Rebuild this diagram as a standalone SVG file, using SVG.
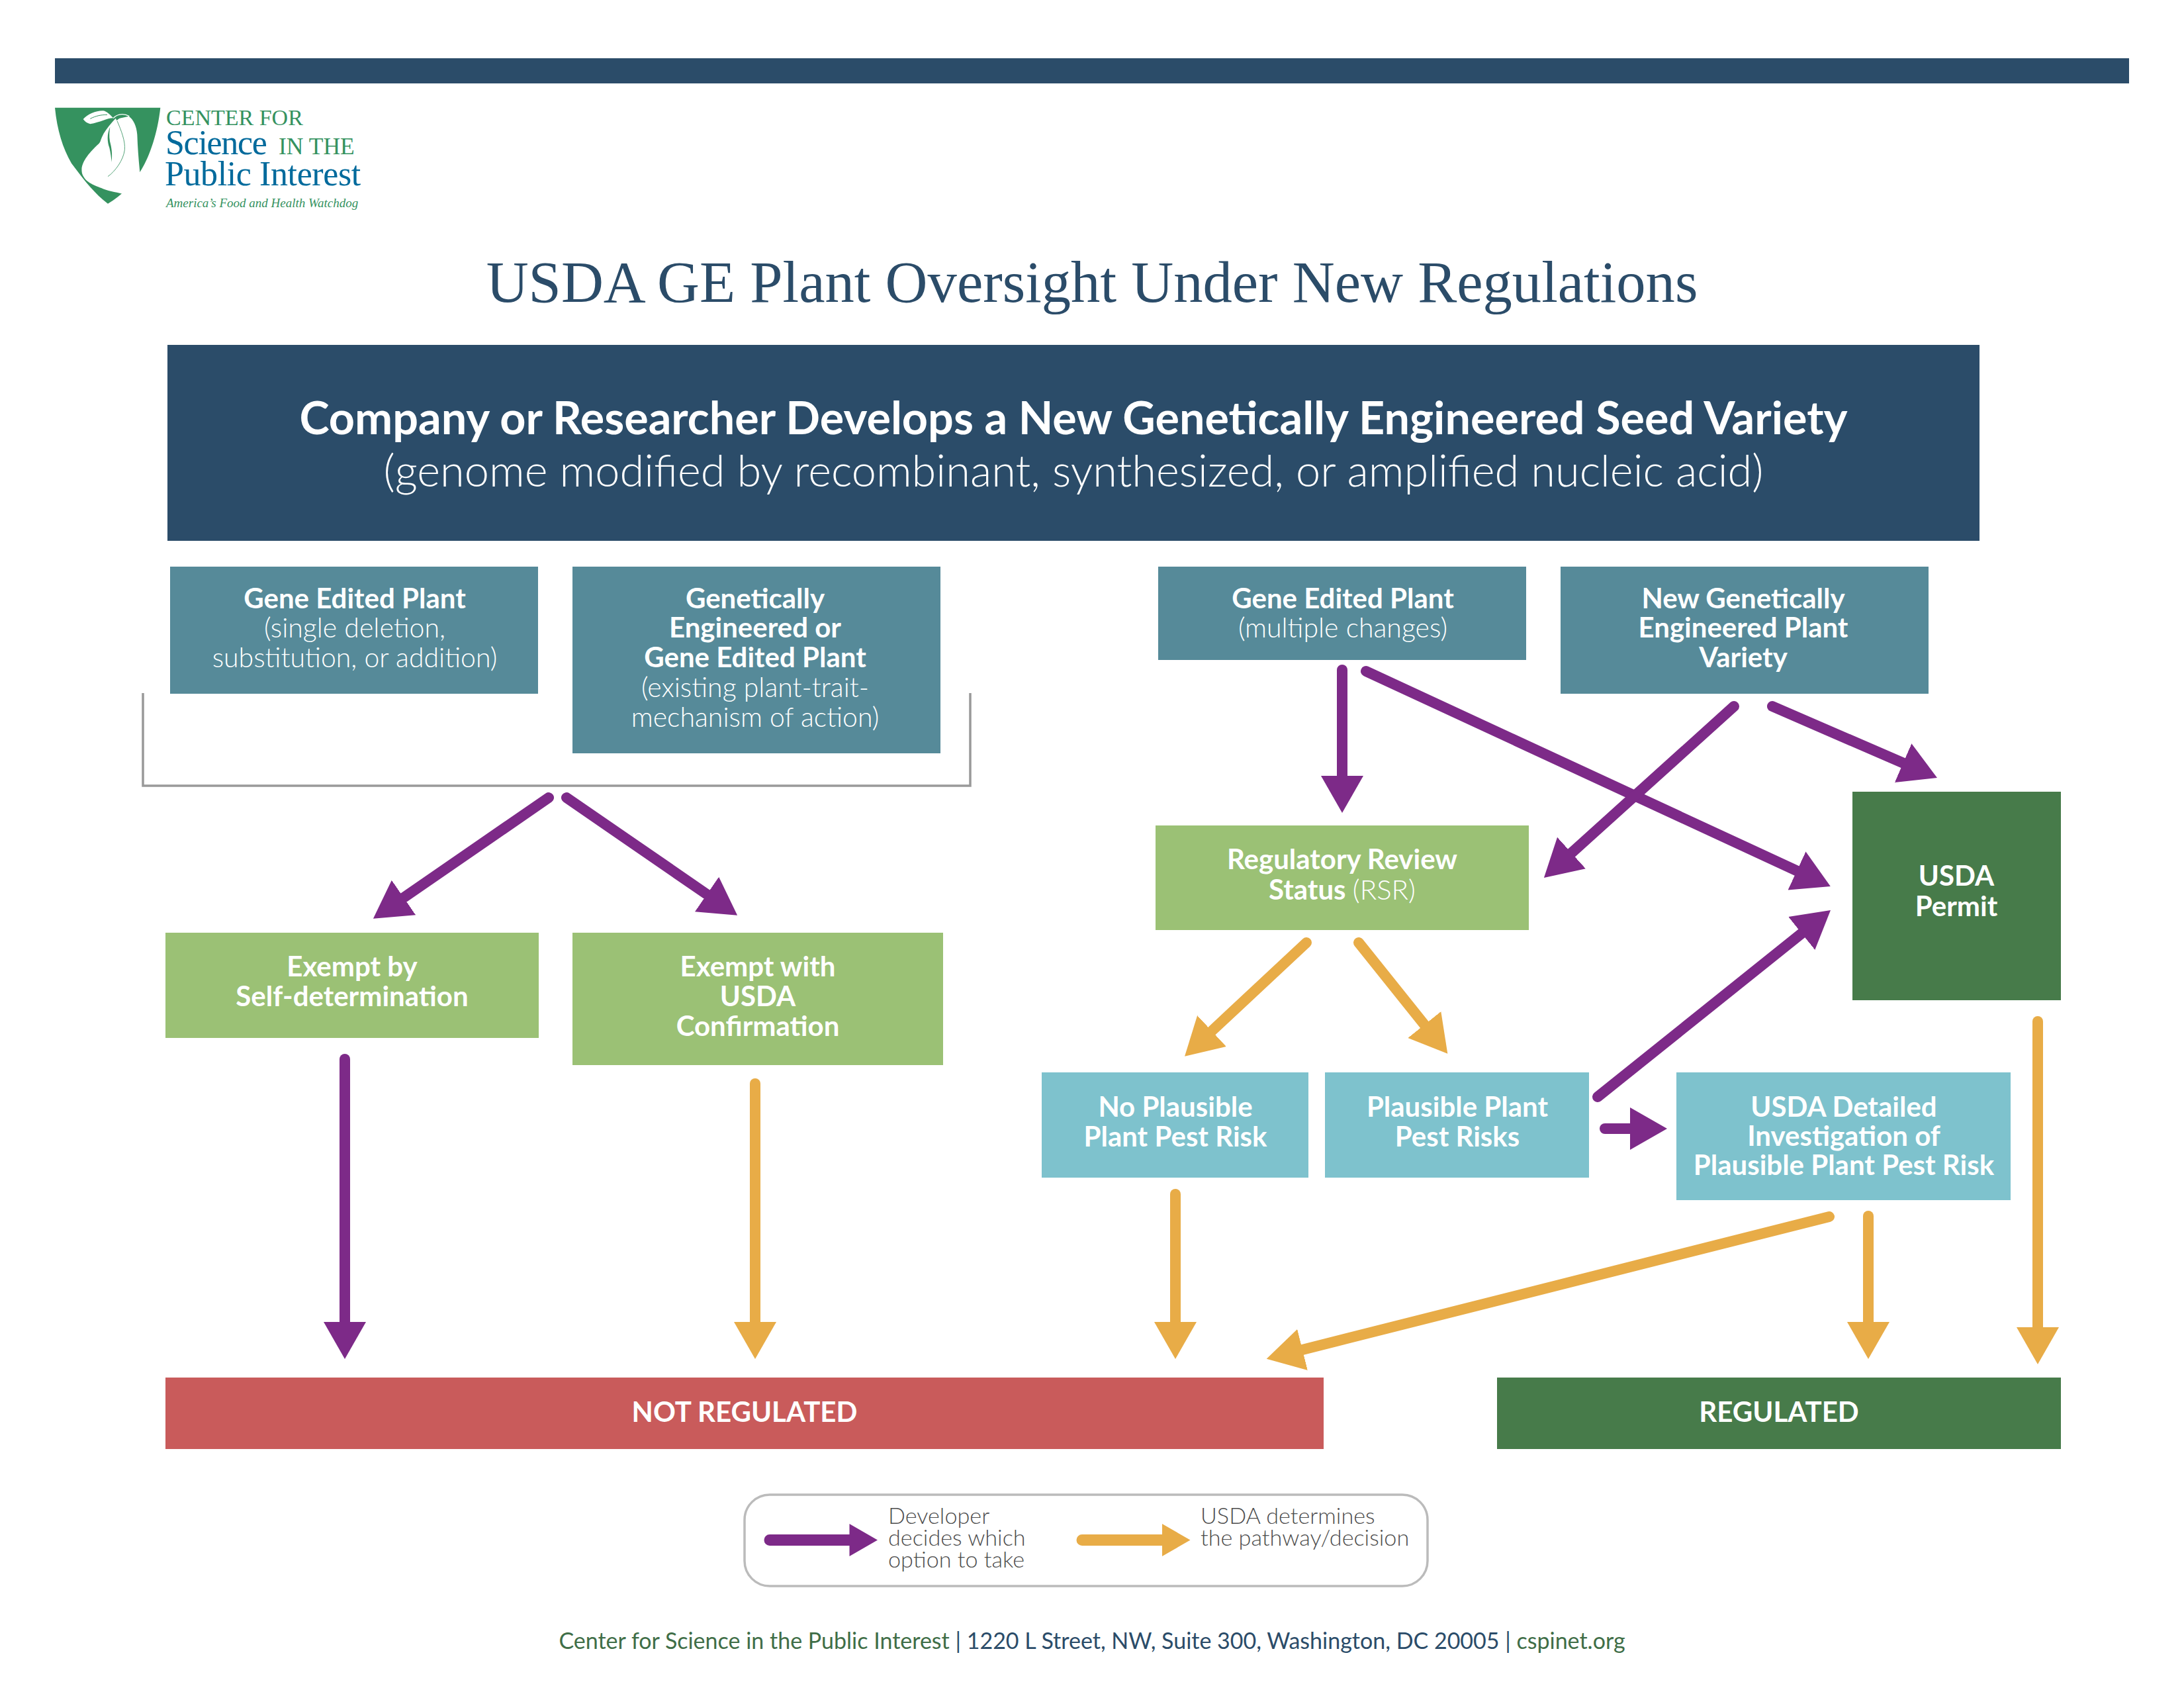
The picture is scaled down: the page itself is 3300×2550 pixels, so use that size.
<svg xmlns="http://www.w3.org/2000/svg" width="3300" height="2550" viewBox="0 0 3300 2550">
<style>
text{font-family:Lato,"Liberation Sans",sans-serif;text-anchor:middle;fill:#fff}
.b{font-weight:700;font-size:42px}
.l{font-weight:300;font-size:41px}
.s{fill:none;stroke-width:16;stroke-linecap:round}
.p{stroke:#7d2a88}.o{stroke:#e8ac47}
.pm{marker-end:url(#hp)}.om{marker-end:url(#ho)}
.leg{font-weight:300;font-size:34.200px;fill:#4d4d4d;text-anchor:start}
.navy{fill:#2b4c69}.teal{fill:#568a99}.lg{fill:#9bc175}.dg{fill:#477b4a}.lb{fill:#7ec2cd}.red{fill:#c95b5b}
.lt{font-family:"Liberation Serif",serif;text-anchor:start}
</style>
<defs>
<marker id="hp" markerUnits="userSpaceOnUse" markerWidth="58" markerHeight="66" refX="0" refY="33" orient="auto"><path d="M0 1L56 33L0 65z" fill="#7d2a88"/></marker>
<marker id="ho" markerUnits="userSpaceOnUse" markerWidth="58" markerHeight="66" refX="0" refY="33" orient="auto"><path d="M0 1L56 33L0 65z" fill="#e8ac47"/></marker>
</defs>
<rect id="top-bar" x="83" y="88" width="3134" height="38" class="navy"/>
<g id="logo">
<g transform="translate(78,160) scale(.3333)">
<path d="M15 8H493C480 130 440 240 400 300C370 350 320 405 255 443C190 395 135 320 90 260C50 190 25 110 15 8z" fill="#35925f"/>
<path d="M350 47C370 60 385 90 388 130C390 190 395 250 400 300L470 300L400 440L320 398C290 390 250 385 225 372C190 358 150 345 138 305C130 270 150 230 215 170L290 60z" fill="#fff"/>
<path d="M292 55C240 110 215 150 218 195C222 240 250 270 253 322C300 290 335 240 335 190C335 150 310 100 292 55z" fill="#fff"/>
<path d="M143 60C165 35 205 20 235 22C250 25 265 40 280 55C250 55 220 75 175 82C160 78 150 70 143 60z" fill="#fff"/>
<path d="M175 58C200 45 225 40 252 40" fill="none" stroke="#35925f" stroke-width="3"/>
<path d="M265 95C250 130 252 160 262 190C268 215 270 235 272 255C276 215 272 190 264 160C260 135 262 115 265 95z" fill="#35925f"/>
<path d="M297 68C315 110 335 160 331 200C325 245 290 295 255 320" fill="none" stroke="#35925f" stroke-width="2.500"/>
<path d="M296 66C308 52 330 45 348 49C328 38 305 42 290 58z" fill="#35925f"/>
<path d="M280 56C290 42 320 28 352 47" fill="none" stroke="#fff" stroke-width="4"/>
</g>
<text class="lt" x="251" y="189" font-size="34" style="fill:#35925f">CENTER FOR</text>
<text class="lt" x="250" y="233" font-size="52" style="fill:#006a9c" letter-spacing="-1.300">Science</text>
<text class="lt" x="421" y="233" font-size="35.500" style="fill:#35925f">IN THE</text>
<text class="lt" x="249" y="280" font-size="52" style="fill:#006a9c" letter-spacing="-.4">Public Interest</text>
<text class="lt" x="251" y="313" font-size="19" font-style="italic" style="fill:#35925f">America’s Food and Health Watchdog</text>
</g>
<text id="title" x="1650" y="456" font-size="88.600" style="font-family:'Liberation Serif',serif;fill:#2b4c69">USDA GE Plant Oversight Under New Regulations</text>
<g id="node-main"><rect x="253" y="521" width="2738" height="296" class="navy"/>
<text x="1622" y="656" font-size="68.300" font-weight="700">Company or Researcher Develops a New Genetically Engineered Seed Variety</text>
<text x="1622" y="735" font-size="66.700" font-weight="300">(genome modified by recombinant, synthesized, or amplified nucleic acid)</text></g>
<g id="flow" transform="translate(0,2)">
<g id="bracket"><path d="M216 1045V1185H1466V1045" fill="none" stroke="#999" stroke-width="3.500"/></g>
<g id="node-gene-single"><rect x="257" y="854" width="556" height="192" class="teal"/>
<text class="b" x="536" y="917">Gene Edited Plant</text><text class="l" x="536" y="961">(single deletion,</text><text class="l" x="536" y="1006">substitution, or addition)</text></g>
<g id="node-ge-existing"><rect x="865" y="854" width="556" height="282" class="teal"/>
<text class="b" x="1141" y="917">Genetically</text><text class="b" x="1141" y="961">Engineered or</text><text class="b" x="1141" y="1006">Gene Edited Plant</text><text class="l" x="1141" y="1051">(existing plant-trait-</text><text class="l" x="1141" y="1096">mechanism of action)</text></g>
<g id="node-gene-multi"><rect x="1750" y="854" width="556" height="141" class="teal"/>
<text class="b" x="2029" y="917">Gene Edited Plant</text><text class="l" x="2029" y="961">(multiple changes)</text></g>
<g id="node-new-ge"><rect x="2358" y="854" width="556" height="192" class="teal"/>
<text class="b" x="2634" y="917">New Genetically</text><text class="b" x="2634" y="961">Engineered Plant</text><text class="b" x="2634" y="1006">Variety</text></g>
<g id="node-rsr"><rect x="1746" y="1245" width="564" height="158" class="lg"/>
<text class="b" x="2028" y="1311">Regulatory Review</text><text x="2028" y="1357" class="b">Status <tspan font-weight="300">(RSR)</tspan></text></g>
<g id="node-permit"><rect x="2799" y="1194" width="315" height="315" class="dg"/>
<text class="b" x="2956" y="1336">USDA</text><text class="b" x="2956" y="1382">Permit</text></g>
<g id="node-exempt-self"><rect x="250" y="1407" width="564" height="159" class="lg"/>
<text class="b" x="532" y="1473">Exempt by</text><text class="b" x="532" y="1518">Self-determination</text></g>
<g id="node-exempt-usda"><rect x="865" y="1407" width="560" height="200" class="lg"/>
<text class="b" x="1145" y="1473">Exempt with</text><text class="b" x="1145" y="1518">USDA</text><text class="b" x="1145" y="1563">Confirmation</text></g>
<g id="node-no-risk"><rect x="1574" y="1618" width="403" height="159" class="lb"/>
<text class="b" x="1776" y="1685">No Plausible</text><text class="b" x="1776" y="1730">Plant Pest Risk</text></g>
<g id="node-risk"><rect x="2002" y="1618" width="399" height="159" class="lb"/>
<text class="b" x="2202" y="1685">Plausible Plant</text><text class="b" x="2202" y="1730">Pest Risks</text></g>
<g id="node-investigation"><rect x="2533" y="1618" width="505" height="193" class="lb"/>
<text class="b" x="2786" y="1685">USDA Detailed</text><text class="b" x="2786" y="1729">Investigation of</text><text class="b" x="2786" y="1773">Plausible Plant Pest Risk</text></g>
<g id="node-not-regulated"><rect x="250" y="2079" width="1750" height="108" class="red"/>
<text class="b" x="1125" y="2146">NOT REGULATED</text></g>
<g id="node-regulated"><rect x="2262" y="2079" width="852" height="108" class="dg"/>
<text class="b" x="2688" y="2146">REGULATED</text></g>
<g id="connectors">
<line class="s p pm" x1="829" y1="1203" x2="610" y2="1354"/>
<line class="s p pm" x1="856" y1="1203" x2="1068" y2="1349"/>
<line class="s p pm" x1="2028" y1="1010" x2="2028" y2="1170"/>
<line class="s p pm" x1="2064" y1="1012" x2="2715" y2="1313.5"/>
<line class="s p pm" x1="2620" y1="1065" x2="2374.5" y2="1286.5"/>
<line class="s p pm" x1="2678" y1="1065" x2="2875.6" y2="1150.7"/>
<line class="s o om" x1="1974" y1="1422" x2="1831" y2="1555.5"/>
<line class="s o om" x1="2053" y1="1422" x2="2152.3" y2="1546"/>
<line class="s p pm" x1="2414" y1="1655" x2="2722.3" y2="1408"/>
<line class="s p pm" x1="2425" y1="1703" x2="2463" y2="1703"/>
<line class="s p pm" x1="521" y1="1598" x2="521" y2="1995"/>
<line class="s o om" x1="1141" y1="1635" x2="1141" y2="1995"/>
<line class="s o om" x1="1776" y1="1802" x2="1776" y2="1995"/>
<line class="s o om" x1="2823" y1="1835" x2="2823" y2="1995"/>
<line class="s o om" x1="3079" y1="1541" x2="3079" y2="2003"/>
<line class="s o om" x1="2764" y1="1836" x2="1968" y2="2037"/>
</g>
<g id="legend">
<rect x="1125" y="2256" width="1032" height="138" rx="38" fill="#fff" stroke="#bbb" stroke-width="3.500"/>
<path d="M1163 2316H1283.5V2300L1326 2324.5L1283.5 2349V2333H1163a8.500 8.500 0 0 1 0-17z" fill="#7d2a88"/>
<path d="M1635 2316H1756V2300L1798.500 2324.5L1756 2349V2333H1635a8.500 8.500 0 0 1 0-17z" fill="#e8ac47"/>
<text class="leg" x="1342" y="2300">Developer</text><text class="leg" x="1342" y="2333">decides which</text><text class="leg" x="1342" y="2366">option to take</text>
<text class="leg" x="1814" y="2300">USDA determines</text><text class="leg" x="1814" y="2333">the pathway/decision</text>
</g>
<text id="footer" x="1650" y="2489" font-size="34" style="fill:#2b4c69"><tspan style="fill:#3f6e47">Center for Science in the Public Interest</tspan> | 1220 L Street, NW, Suite 300, Washington, DC 20005 | <tspan style="fill:#3f6e47">cspinet.org</tspan></text>
</g>
</svg>
